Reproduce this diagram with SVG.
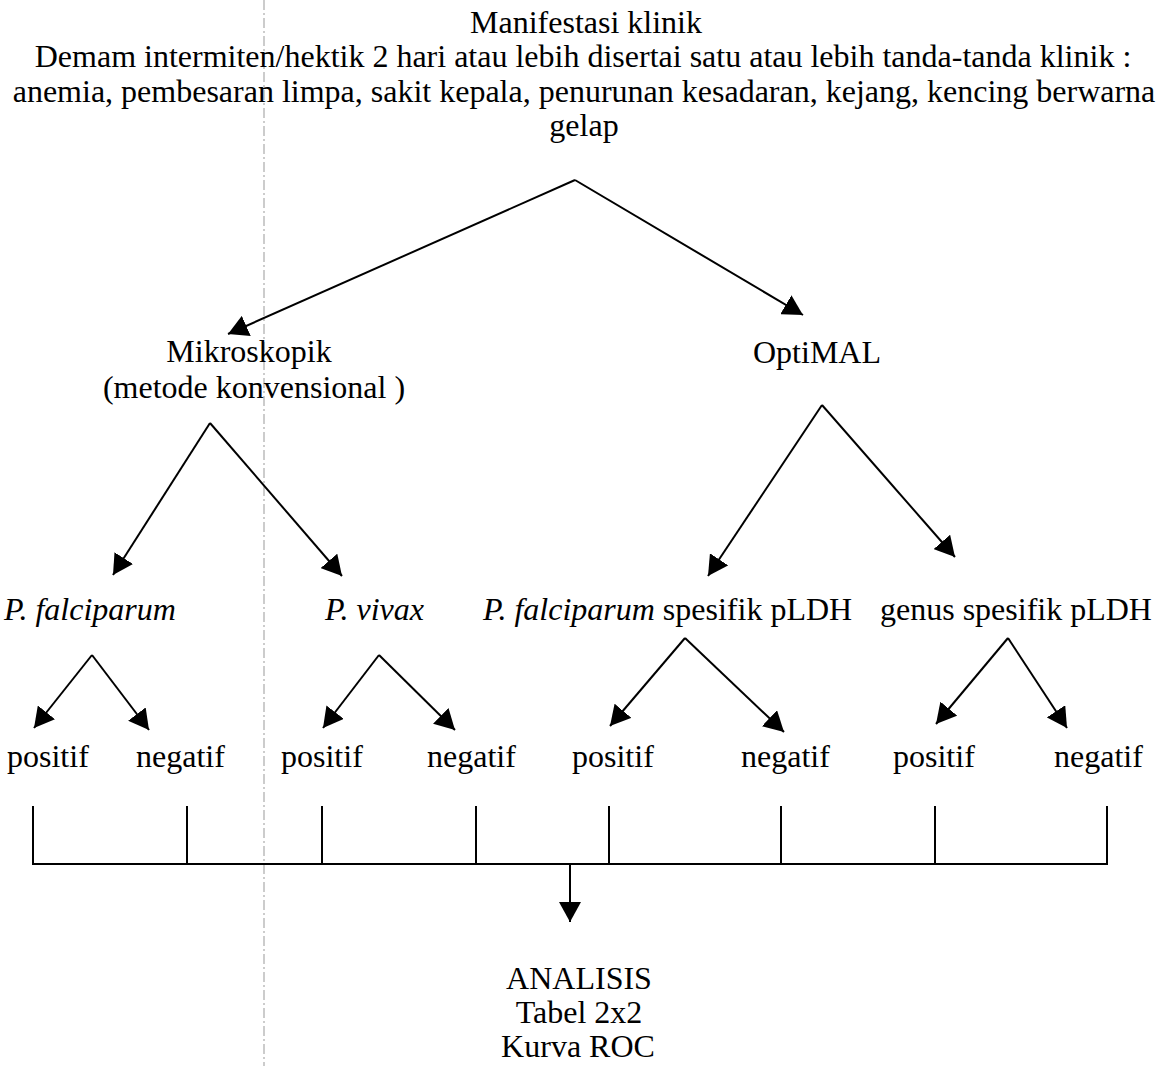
<svg xmlns="http://www.w3.org/2000/svg" width="1169" height="1066" viewBox="0 0 1169 1066">
<style>
text{font-family:"Liberation Serif","Times New Roman",serif;font-size:32px;fill:#000}
.c{text-anchor:middle}
.i{font-style:italic}
.ln{stroke:#000;stroke-width:2;fill:none}
.ar{stroke:#000;stroke-width:2;fill:none;marker-end:url(#ah)}
</style>
<defs>
<marker id="ah" viewBox="0 0 20 22" refX="20" refY="11" markerWidth="20" markerHeight="22" markerUnits="userSpaceOnUse" orient="auto">
<path d="M0,0 L20,11 L0,22 z" fill="#000"/>
</marker>
</defs>
<rect width="1169" height="1066" fill="#fff"/>
<line x1="264" y1="0" x2="264" y2="1066" stroke="#999" stroke-width="1" stroke-dasharray="10 3 2 3"/>
<g id="n-manifestasi">
<text class="c" x="586" y="33">Manifestasi klinik</text>
<text class="c" x="583" y="67">Demam intermiten/hektik 2 hari atau lebih disertai satu atau lebih tanda-tanda klinik :</text>
<text class="c" x="584" y="102">anemia, pembesaran limpa, sakit kepala, penurunan kesadaran, kejang, kencing berwarna</text>
<text class="c" x="584" y="136">gelap</text>
</g>
<g id="n-mikroskopik">
<text class="c" x="249" y="362">Mikroskopik</text>
<text class="c" x="254" y="398">(metode konvensional )</text>
</g>
<g id="n-optimal"><text class="c" x="817" y="363">OptiMAL</text></g>
<g id="n-pf"><text class="i" x="4" y="620">P. falciparum</text></g>
<g id="n-pv"><text class="i" x="325" y="620">P. vivax</text></g>
<g id="n-pf-pldh"><text x="483" y="620"><tspan class="i">P. falciparum</tspan> spesifik pLDH</text></g>
<g id="n-genus-pldh"><text x="880" y="620">genus spesifik pLDH</text></g>
<g id="n-pos1"><text x="7" y="767">positif</text></g>
<g id="n-neg1"><text x="136" y="767">negatif</text></g>
<g id="n-pos2"><text x="281" y="767">positif</text></g>
<g id="n-neg2"><text x="427" y="767">negatif</text></g>
<g id="n-pos3"><text x="572" y="767">positif</text></g>
<g id="n-neg3"><text x="741" y="767">negatif</text></g>
<g id="n-pos4"><text x="893" y="767">positif</text></g>
<g id="n-neg4"><text x="1054" y="767">negatif</text></g>
<g id="n-analisis">
<text class="c" x="579" y="989">ANALISIS</text>
<text class="c" x="579" y="1023">Tabel 2x2</text>
<text class="c" x="578" y="1057">Kurva ROC</text>
</g>
<g id="connectors">
<path class="ar" d="M575,180 L228,334"/>
<path class="ar" d="M575,180 L803,315"/>
<path class="ar" d="M210,423 L113,575"/>
<path class="ar" d="M210,423 L342,576"/>
<path class="ar" d="M822,405 L708,576"/>
<path class="ar" d="M822,405 L955,557"/>
<path class="ar" d="M92,655 L34,728"/>
<path class="ar" d="M92,655 L149,730"/>
<path class="ar" d="M379,655 L323,728"/>
<path class="ar" d="M379,655 L455,730"/>
<path class="ar" d="M685,638 L610,726"/>
<path class="ar" d="M685,638 L784,732"/>
<path class="ar" d="M1008,638 L936,724"/>
<path class="ar" d="M1008,638 L1067,728"/>
<path class="ln" d="M33,806 L33,864 L1107,864 L1107,806"/>
<path class="ln" d="M187,806 V864 M322,806 V864 M476,806 V864 M609,806 V864 M781,806 V864 M935,806 V864"/>
<path class="ar" d="M570,864 L570,922"/>
</g>
</svg>
